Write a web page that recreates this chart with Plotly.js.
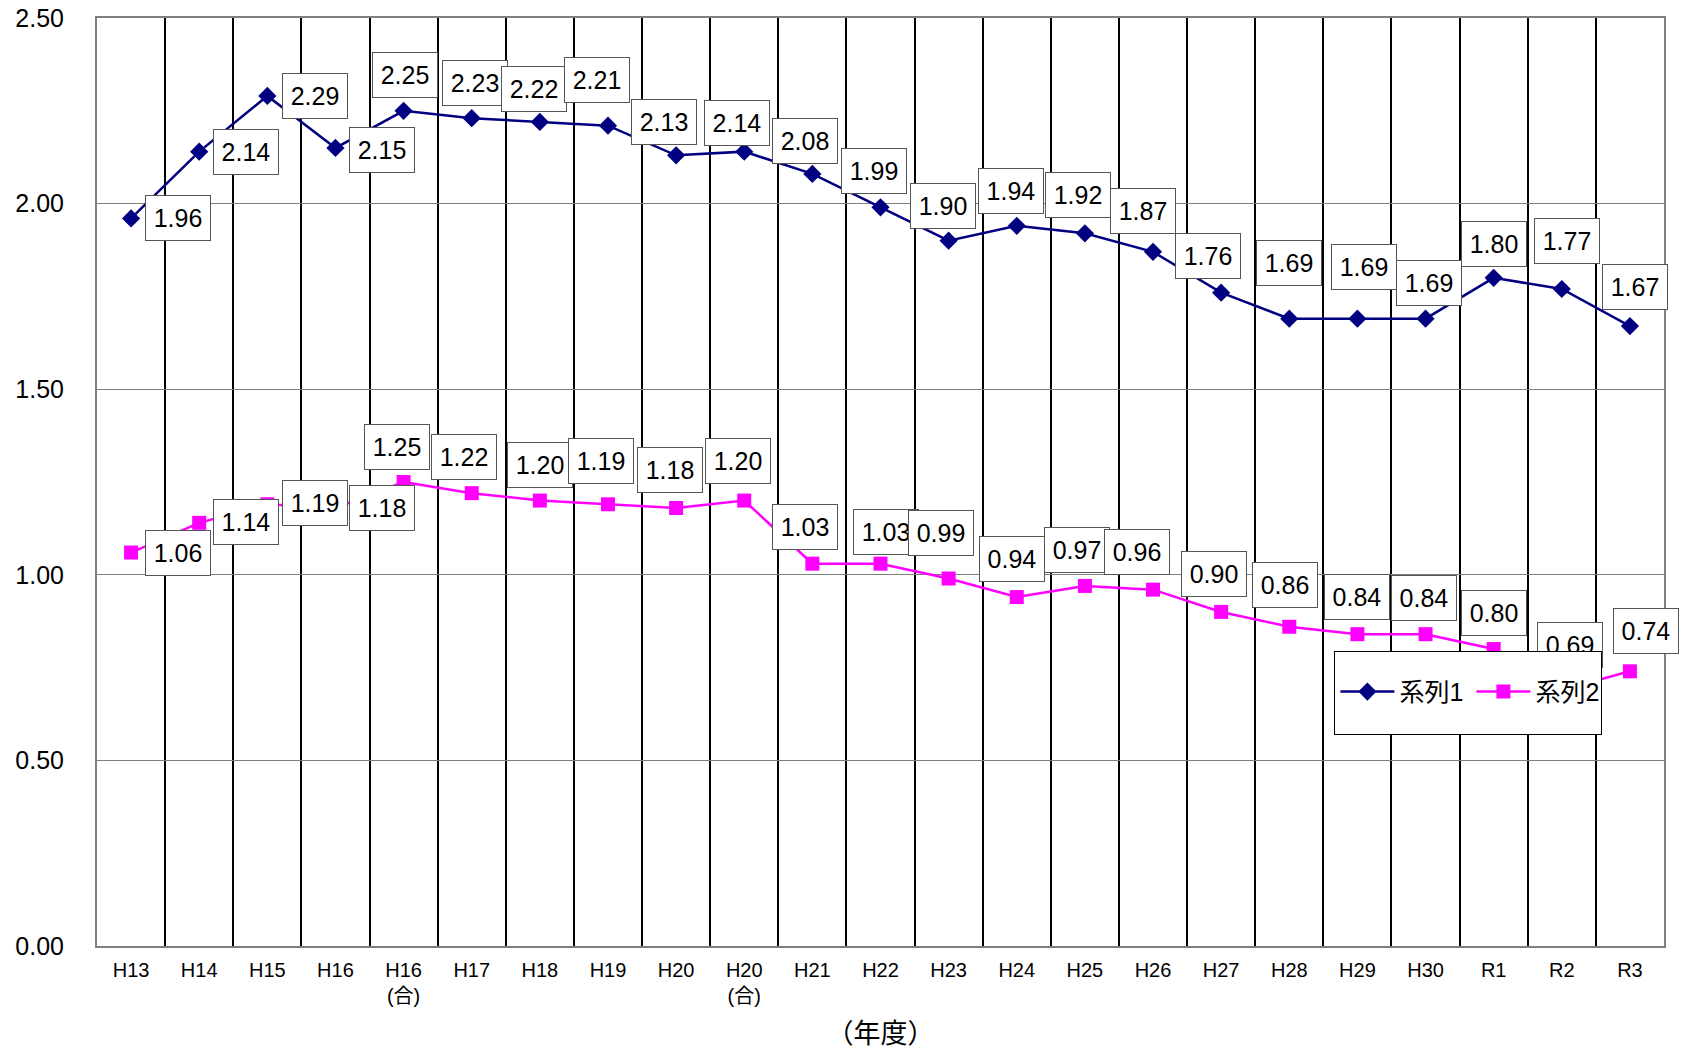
<!DOCTYPE html>
<html>
<head>
<meta charset="utf-8">
<script src="https://cdn.plot.ly/plotly-3.0.1.min.js"></script>
<style>
  html, body { margin: 0; padding: 0; background: #ffffff; }
  #chart { width: 1686px; height: 1051px; }
</style>
</head>
<body>
<div id="chart"></div>
<script>
// Fiscal years on the category axis
const categories = [
  'H13', 'H14', 'H15', 'H16', 'H16<br>(合)', 'H17', 'H18', 'H19', 'H20', 'H20<br>(合)',
  'H21', 'H22', 'H23', 'H24', 'H25', 'H26', 'H27', 'H28', 'H29', 'H30', 'R1', 'R2', 'R3'
];

// 系列1 values
const series1 = [
  1.96, 2.14, 2.29, 2.15, 2.25, 2.23, 2.22, 2.21, 2.13, 2.14,
  2.08, 1.99, 1.90, 1.94, 1.92, 1.87, 1.76, 1.69, 1.69, 1.69, 1.80, 1.77, 1.67
];

// 系列2 values
const series2 = [
  1.06, 1.14, 1.19, 1.18, 1.25, 1.22, 1.20, 1.19, 1.18, 1.20,
  1.03, 1.03, 0.99, 0.94, 0.97, 0.96, 0.90, 0.86, 0.84, 0.84, 0.80, 0.69, 0.74
];

const seriesNames = ['系列1', '系列2'];

// Pixel offsets of each value box from its point (right, down)
const labelShift1 = [
  [47, 0], [47, 0], [48, 0], [47, 2], [1, -36], [3, -35], [-6, -33], [-11, -46], [-12, -33], [-7, -29],
  [-7, -33], [-7, -36], [-6, -35], [-6, -35], [-7, -38], [-10, -41], [-13, -37], [0, -56], [7, -52],
  [3, -36], [0, -34], [5, -48], [5, -39]
];
const labelShift2 = [
  [47, 0], [47, -1], [48, -1], [47, 0], [-7, -35], [-8, -36], [0, -36], [-7, -43], [-6, -38], [-6, -40],
  [-7, -37], [5, -32], [-8, -46], [-5, -38], [-8, -36], [-16, -38], [-7, -38], [-4, -42], [0, -37],
  [-2, -36], [0, -36], [8, -45], [16, -40]
];

const NAVY = '#000080';
const MAGENTA = '#FF00FF';
const FONT = 'Liberation Sans, Arial, "Noto Sans CJK JP", sans-serif';

const traces = [
  {
    x: categories, y: series1, name: seriesNames[0], type: 'scatter', mode: 'lines+markers',
    line: { color: NAVY, width: 2.5 },
    marker: { symbol: 'diamond', size: 14, color: NAVY }
  },
  {
    x: categories, y: series2, name: seriesNames[1], type: 'scatter', mode: 'lines+markers',
    line: { color: MAGENTA, width: 2.5 },
    marker: { symbol: 'square', size: 14, color: MAGENTA }
  }
];

// Boxed value labels
function valueBoxes(values, shifts) {
  return values.map((v, i) => ({
    x: categories[i], y: v, xref: 'x', yref: 'y',
    text: v.toFixed(2), showarrow: false,
    xshift: shifts[i][0], yshift: -shifts[i][1],
    font: { family: FONT, size: 25, color: '#000000' },
    bgcolor: '#ffffff', bordercolor: '#555555', borderwidth: 1, borderpad: 6,
    width: 52, height: 32
  }));
}

// White frame behind the legend entries
const legendFrame = {
  xref: 'paper', yref: 'paper', x: 0.8752, y: 0.2728,
  xanchor: 'center', yanchor: 'middle',
  text: ' ', showarrow: false,
  bgcolor: '#ffffff', bordercolor: '#000000', borderwidth: 1, borderpad: 0,
  width: 266, height: 82
};

const annotations = valueBoxes(series1, labelShift1)
  .concat(valueBoxes(series2, labelShift2))
  .concat([legendFrame]);

const layout = {
  width: 1686, height: 1051,
  margin: { l: 97, r: 22, t: 18, b: 105 },
  paper_bgcolor: '#ffffff', plot_bgcolor: '#ffffff',
  font: { family: FONT, color: '#000000' },
  showlegend: true,
  legend: {
    orientation: 'h', x: 0.7903, y: 0.2739, xanchor: 'left', yanchor: 'middle',
    bgcolor: 'rgba(0,0,0,0)', borderwidth: 0, itemwidth: 54,
    entrywidth: 67, entrywidthmode: 'pixels',
    font: { family: FONT, size: 25, color: '#000000' }
  },
  xaxis: {
    type: 'category', range: [-0.5, 22.5], autorange: false,
    tickson: 'boundaries', ticks: '', ticklen: 0,
    showgrid: true, gridcolor: '#000000', gridwidth: 2,
    showline: true, linecolor: '#808080', linewidth: 2, mirror: true,
    tickfont: { family: FONT, size: 20, color: '#000000' },
    ticklabelstandoff: 5,
    title: { text: '（年度）', font: { family: '"Noto Sans CJK JP", sans-serif', size: 27 }, standoff: 18 },
    fixedrange: true
  },
  yaxis: {
    range: [0, 2.5], autorange: false, dtick: 0.5, tickformat: '.2f',
    showgrid: true, gridcolor: '#808080', gridwidth: 1,
    zeroline: true, zerolinecolor: '#000000', zerolinewidth: 2,
    showline: true, linecolor: '#808080', linewidth: 2, mirror: true,
    ticks: '', ticklabelstandoff: 26,
    tickfont: { family: FONT, size: 25, color: '#000000' },
    fixedrange: true
  },
  annotations: annotations
};

Plotly.newPlot('chart', traces, layout, { staticPlot: true, displayModeBar: false })
  .then(function (gd) {
    // keep the legend entries on top of the frame and the value boxes
    const legend = gd.querySelector('g.legend');
    const ann = gd.querySelector('g.annotation');
    if (legend && ann) ann.parentNode.appendChild(legend);
  });
</script>
</body>
</html>
